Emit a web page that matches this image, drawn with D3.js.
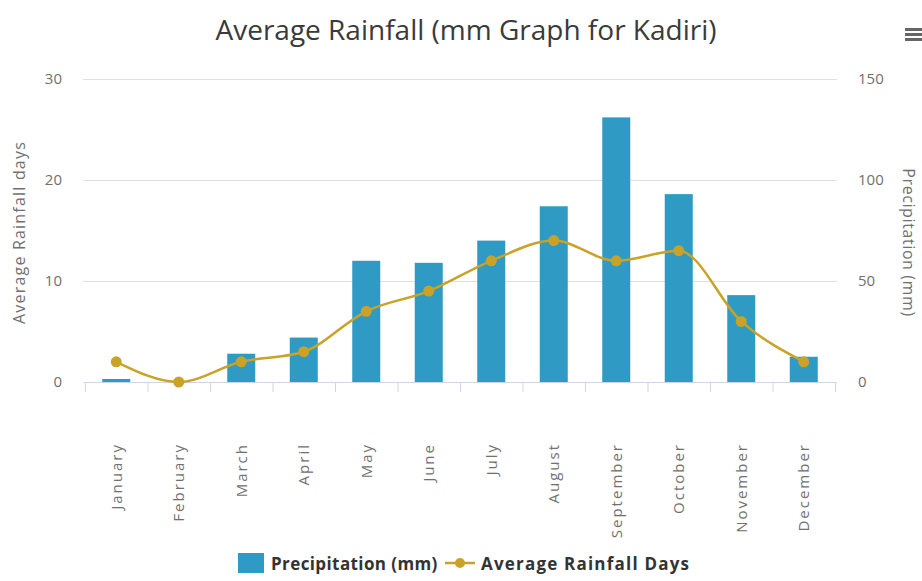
<!DOCTYPE html>
<html>
<head>
<meta charset="utf-8">
<script src="https://cdn.jsdelivr.net/npm/d3@7"></script>
<style>
  body { margin: 0; background: #fff; }
  svg { display: block; font-family: "Open Sans", "Noto Sans", sans-serif; }
</style>
</head>
<body>
<svg id="chart" width="922" height="581"></svg>
<script>
var months = ["January", "February", "March", "April", "May", "June", "July",
              "August", "September", "October", "November", "December"];
var precipitation = [1.5, 0, 14, 22, 60, 59, 70, 87, 131, 93, 43, 12.5];
var rainDays = [2, 0, 2, 3, 7, 9, 12, 14, 12, 13, 6, 2];
var daysTicks = [0, 10, 20, 30];
var precTicks = [0, 50, 100, 150];

var svg = d3.select("#chart"),
    margin = {top: 79, right: 87, bottom: 199, left: 85},
    width = +svg.attr("width") - margin.left - margin.right,
    height = +svg.attr("height") - margin.top - margin.bottom,
    g = svg.append("g").attr("transform", "translate(" + margin.left + "," + margin.top + ")");

var font = '"Open Sans", "Noto Sans", sans-serif';

var x = d3.scaleBand().domain(months).range([0, width]).padding(0);
var xEdge = d3.scaleLinear().domain([0, months.length]).range([0, width]);
var yDays = d3.scaleLinear().domain([0, 30]).range([height, 0]);
var yPrec = d3.scaleLinear().domain([0, 150]).range([height, 0]);

var textColor = "#707070";
var barColor = "#2f9ac3";
var lineColor = "#c9a227";

// title
svg.append("text")
    .attr("x", 466).attr("y", 40)
    .attr("text-anchor", "middle")
    .attr("fill", "#3a3a3a")
    .style("font-size", "28px")
    .text("Average Rainfall (mm Graph for Kadiri)");

// menu icon
svg.append("g").selectAll("rect")
    .data([0, 1, 2])
    .enter().append("rect")
    .attr("x", 905).attr("y", function(d) { return 28 + d * 5; })
    .attr("width", 17).attr("height", 3)
    .attr("fill", "#666");

// grid
g.append("g")
    .attr("class", "grid")
    .call(d3.axisLeft(yDays).tickValues(daysTicks).tickSize(-width - 4).tickFormat(""))
    .attr("transform", "translate(-2,0)")
    .call(function(s) {
      s.select(".domain").remove();
      s.selectAll("line").attr("stroke", "#e0e0e0").attr("stroke-width", 1);
    });

// left axis
g.append("g")
    .attr("class", "axis axis--left")
    .attr("font-family", font)
    .call(d3.axisLeft(yDays).tickValues(daysTicks).tickSize(0).tickPadding(23))
    .call(function(s) {
      s.select(".domain").remove();
      s.selectAll("text").attr("fill", textColor).style("font-size", "15px").style("font-family", font);
    });

// right axis
g.append("g")
    .attr("class", "axis axis--right")
    .attr("transform", "translate(" + width + ",0)")
    .call(d3.axisRight(yPrec).tickValues(precTicks).tickSize(0).tickPadding(23))
    .call(function(s) {
      s.select(".domain").remove();
      s.selectAll("text").attr("fill", textColor).style("font-size", "15px").style("font-family", font);
    });

// axis titles
svg.append("text")
    .attr("transform", "translate(25," + (margin.top + height / 2 + 2) + ") rotate(-90)")
    .attr("text-anchor", "middle")
    .attr("fill", textColor)
    .style("font-size", "16px")
    .style("letter-spacing", "1.2px")
    .text("Average Rainfall days");

svg.append("text")
    .attr("transform", "translate(903," + (margin.top + height / 2 + 12) + ") rotate(90)")
    .attr("text-anchor", "middle")
    .attr("fill", textColor)
    .style("font-size", "16px")
    .style("letter-spacing", "0.6px")
    .text("Precipitation (mm)");

// bars
var barW = 28;
g.append("g")
    .attr("class", "bars")
  .selectAll("rect")
    .data(precipitation)
  .enter().append("rect")
    .attr("x", function(d, i) { return x(months[i]) + x.bandwidth() / 2 - barW / 2; })
    .attr("y", function(d) { return yPrec(d); })
    .attr("width", barW)
    .attr("height", function(d) { return height - yPrec(d); })
    .attr("fill", barColor);

// x axis
g.append("g")
    .attr("class", "axis axis--x")
    .attr("transform", "translate(0," + height + ")")
    .call(d3.axisBottom(xEdge).tickValues(d3.range(months.length + 1)).tickSize(10).tickFormat(""))
    .call(function(s) {
      s.select(".domain").attr("stroke", "#ccd6eb");
      s.selectAll("line").attr("stroke", "#ccd6eb");
    });

g.append("g")
    .attr("class", "axis axis--labels")
    .attr("transform", "translate(0," + (height + 61) + ")")
    .call(d3.axisBottom(x).tickSize(0).tickPadding(0))
    .call(function(s) {
      s.select(".domain").remove();
      s.selectAll("text")
        .attr("fill", textColor)
        .style("font-size", "15px")
        .style("letter-spacing", "2px")
        .style("font-family", font)
        .attr("text-anchor", "end")
        .attr("dy", "0.35em")
        .attr("y", 0)
        .attr("transform", "rotate(-90)");
    });

// line
var line = d3.line()
    .x(function(d, i) { return x(months[i]) + x.bandwidth() / 2; })
    .y(function(d) { return yDays(d); })
    .curve(d3.curveMonotoneX);

g.append("path")
    .datum(rainDays)
    .attr("fill", "none")
    .attr("stroke", lineColor)
    .attr("stroke-width", 2.5)
    .attr("d", line);

g.append("g")
    .attr("class", "dots")
  .selectAll("circle")
    .data(rainDays)
  .enter().append("circle")
    .attr("cx", function(d, i) { return x(months[i]) + x.bandwidth() / 2; })
    .attr("cy", function(d) { return yDays(d); })
    .attr("r", 5.5)
    .attr("fill", lineColor);

// legend
var legend = svg.append("g").attr("class", "legend").attr("transform", "translate(0,570)");
legend.append("rect")
    .attr("x", 238).attr("y", -17)
    .attr("width", 26).attr("height", 20)
    .attr("fill", barColor);
legend.append("text")
    .attr("x", 271).attr("y", 0)
    .attr("fill", "#333")
    .style("font-size", "17px").style("font-weight", "bold")
    .style("letter-spacing", "0.4px")
    .text("Precipitation (mm)");
legend.append("line")
    .attr("x1", 445).attr("x2", 475).attr("y1", -7).attr("y2", -7)
    .attr("stroke", lineColor).attr("stroke-width", 2.5);
legend.append("circle")
    .attr("cx", 460).attr("cy", -7).attr("r", 5)
    .attr("fill", lineColor);
legend.append("text")
    .attr("x", 481).attr("y", 0)
    .attr("fill", "#333")
    .style("font-size", "17px").style("font-weight", "bold")
    .style("letter-spacing", "1.2px")
    .text("Average Rainfall Days");
</script>
</body>
</html>
